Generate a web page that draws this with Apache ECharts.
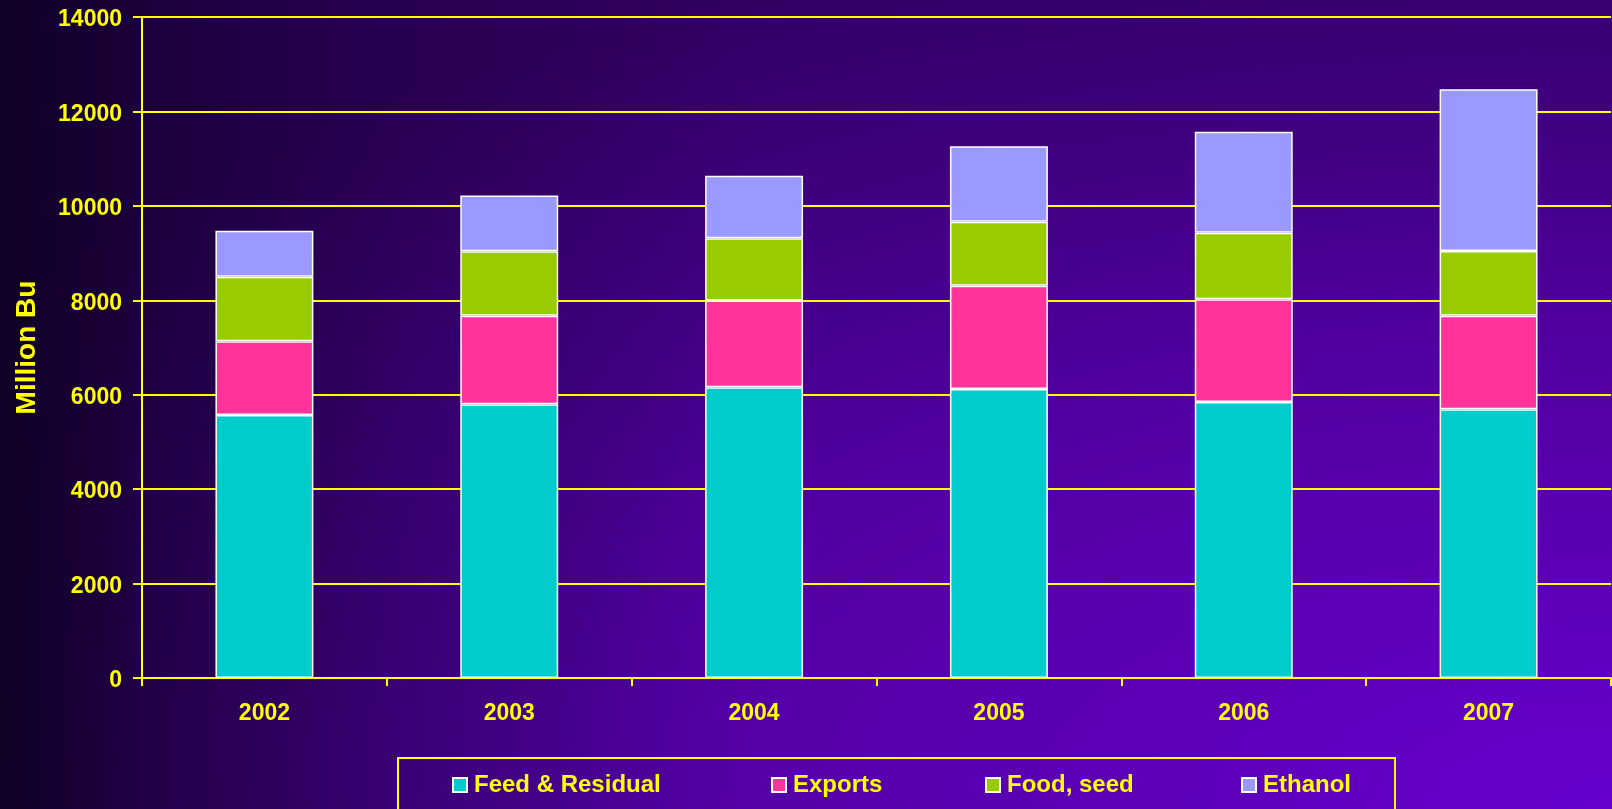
<!DOCTYPE html>
<html>
<head>
<meta charset="utf-8">
<script src="https://cdn.jsdelivr.net/npm/echarts@6/dist/echarts.min.js"></script>
<style>
  html, body { margin: 0; padding: 0; width: 1612px; height: 809px; overflow: hidden; }
  #chart {
    width: 1612px; height: 809px;
    background:
      linear-gradient(to right, rgba(16,0,38,1) 0px, rgba(16,0,38,0.6) 170px, rgba(16,0,38,0.28) 400px, rgba(16,0,38,0) 750px),
      radial-gradient(ellipse 2000px 900px at 100% 100%, #6600cc 0%, #5200a3 50%, #310062 100%);
  }
</style>
</head>
<body>
<div id="chart"></div>
<script>
const categories = ['2002', '2003', '2004', '2005', '2006', '2007'];
const feedResidual = [5570, 5800, 6160, 6120, 5845, 5690];
const exportsData = [1560, 1870, 1835, 2190, 2175, 1985];
const foodSeed = [1370, 1370, 1320, 1355, 1410, 1370];
const ethanol = [975, 1180, 1325, 1600, 2140, 3425];
const seriesNames = ['Feed & Residual', 'Exports', 'Food, seed', 'Ethanol'];
const seriesColors = ['#00cccc', '#ff3399', '#99cc00', '#9999ff'];
const yTicks = { min: 0, max: 14000, interval: 2000 };

const YELLOW = '#ffff00';
const FONT = "'Liberation Sans', Arial, sans-serif";

const chart = echarts.init(document.getElementById('chart'), null, { renderer: 'canvas' });

const dataSets = [feedResidual, exportsData, foodSeed, ethanol];
const legendLefts = [452, 771, 985, 1241];

chart.setOption({
  backgroundColor: 'transparent',
  animation: false,
  grid: { left: 142, right: 1, top: 17, bottom: 131, containLabel: false },
  legend: seriesNames.map((name, i) => ({
    data: [name],
    left: legendLefts[i],
    top: 773,
    padding: 0,
    itemWidth: 14,
    itemHeight: 14,
    icon: 'rect',
    selectedMode: false,
    textStyle: { color: YELLOW, fontSize: 24, fontWeight: 'bold', fontFamily: FONT, padding: [0, 0, 0, 2] }
  })),
  graphic: [{
    type: 'rect',
    shape: { x: 398, y: 758, width: 997, height: 80 },
    style: { fill: 'none', stroke: YELLOW, lineWidth: 2 },
    silent: true
  }],
  xAxis: {
    type: 'category',
    data: categories,
    boundaryGap: true,
    axisLine: { show: true, lineStyle: { color: YELLOW, width: 2 } },
    axisTick: { show: true, length: 8, alignWithLabel: false, lineStyle: { color: YELLOW, width: 2 } },
    axisLabel: { color: YELLOW, fontSize: 23, fontWeight: 'bold', fontFamily: FONT, margin: 24 },
    splitLine: { show: false }
  },
  yAxis: {
    type: 'value',
    min: yTicks.min,
    max: yTicks.max,
    interval: yTicks.interval,
    name: 'Million Bu',
    nameLocation: 'middle',
    nameRotate: 90,
    nameGap: 101,
    nameTextStyle: { color: YELLOW, fontSize: 28, fontWeight: 'bold', fontFamily: FONT },
    axisLine: { show: true, lineStyle: { color: YELLOW, width: 2 } },
    axisTick: { show: true, length: 9, lineStyle: { color: YELLOW, width: 2 } },
    axisLabel: {
      color: YELLOW, fontSize: 23, fontWeight: 'bold', fontFamily: FONT, margin: 20,
      formatter: function (v) { return '{t|' + String(v) + '}'; },
      rich: {
        t: { color: YELLOW, fontSize: 23, fontWeight: 'bold', fontFamily: FONT, padding: [6, 0, 0, 0] }
      }
    },
    splitLine: { show: true, lineStyle: { color: YELLOW, width: 2 } }
  },
  series: seriesNames.map((name, i) => ({
    name: name,
    type: 'bar',
    stack: 'total',
    barWidth: '40%',
    data: dataSets[i],
    itemStyle: { color: seriesColors[i], borderColor: '#ffffff', borderWidth: 1.5 },
    emphasis: { disabled: true }
  }))
});
</script>
</body>
</html>
